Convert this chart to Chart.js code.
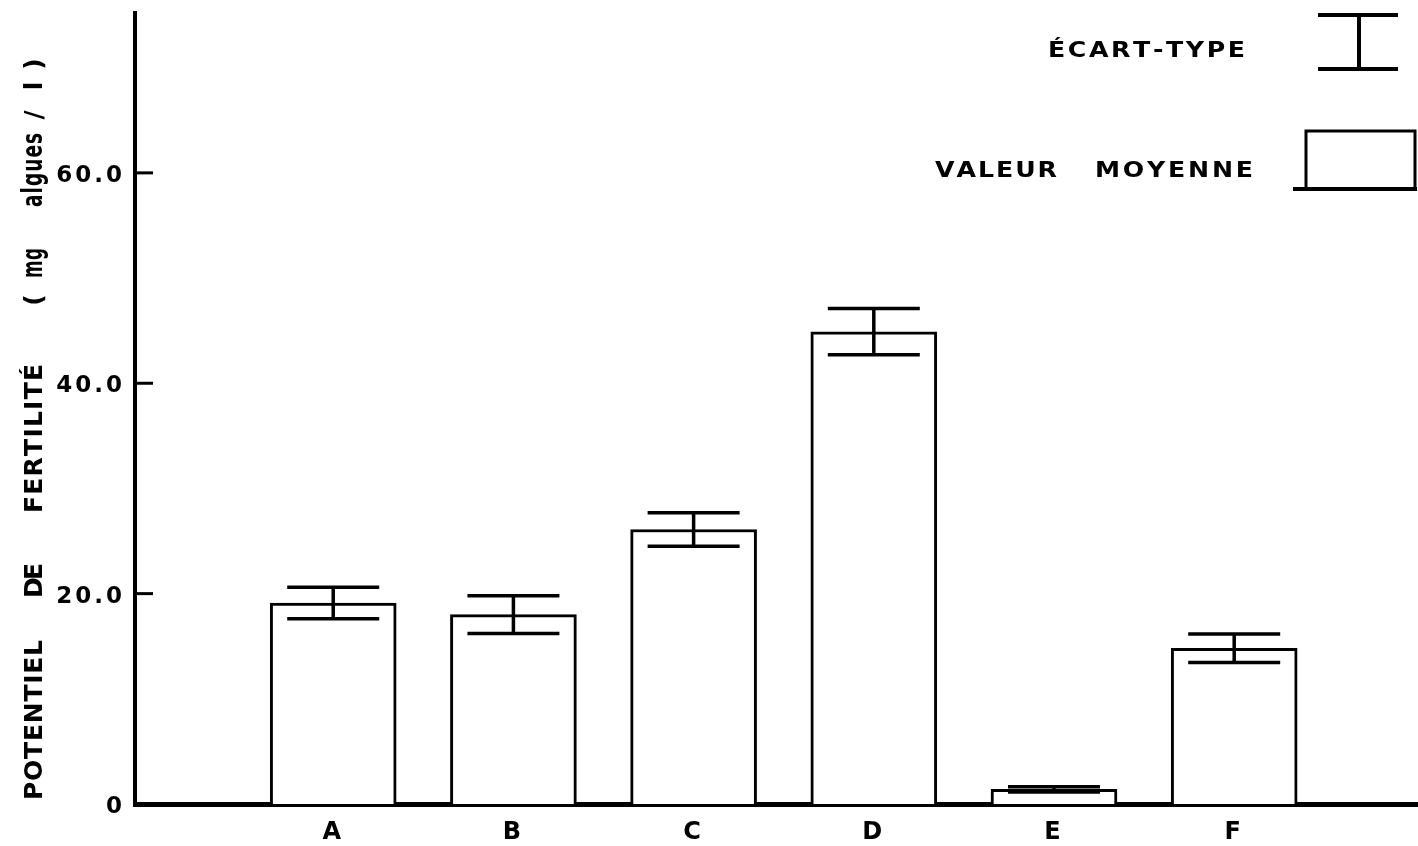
<!DOCTYPE html>
<html>
<head>
<meta charset="utf-8">
<script src="https://cdn.jsdelivr.net/npm/chart.js@4/dist/chart.umd.min.js"></script>
<style>
  html, body { margin: 0; padding: 0; background: #fff; }
  canvas { display: block; }
</style>
</head>
<body>
<canvas id="chart" width="1418" height="846"></canvas>
<script>
// Samples and their mean fertility potential (mg algues / l) with standard deviation
const categories = ['A', 'B', 'C', 'D', 'E', 'F'];
const meanValues = [19.1, 18.0, 26.1, 44.9, 1.4, 14.8];
const stdDevValues = [1.5, 1.8, 1.6, 2.2, 0.25, 1.35];
const yTickValues = [0, 20, 40, 60];
const yTitleWords = ['POTENTIEL', 'DE', 'FERTILITÉ', '(', 'mg', 'algues', '/', 'l', ')'];
const legendErrorLabel = 'ÉCART-TYPE';
const legendMeanWords = ['VALEUR', 'MOYENNE'];

const FONT = '"DejaVu Sans", "Liberation Sans", sans-serif';

// Spread the characters of a word evenly between two x positions on the current baseline,
// scaling each glyph horizontally by `stretch`
function drawSpread(ctx, text, x0, x1, y, stretch = 1) {
  const chars = Array.from(text);
  const widths = chars.map(c => ctx.measureText(c).width * stretch);
  const total = widths.reduce((a, b) => a + b, 0);
  ctx.textAlign = 'left';
  const put = (c, x) => {
    ctx.save();
    ctx.translate(x, y);
    ctx.scale(stretch, 1);
    ctx.fillText(c, 0, 0);
    ctx.restore();
  };
  if (chars.length === 1) {
    put(text, x0 + (x1 - x0 - total) / 2);
    return;
  }
  const gap = (x1 - x0 - total) / (chars.length - 1);
  let x = x0;
  chars.forEach((c, i) => {
    put(c, x);
    x += widths[i] + gap;
  });
}

// Word spans (bottom, top), font sizes and glyph widening of the rotated axis title
const titleSpans = [[800, 640], [598, 563], [513, 364], [306, 294], [278, 248], [207, 133], [123, 107], [92, 80], [70, 58]];
const titleSizes = [25, 25, 25, 25, 28, 28, 25, 25, 25];
const titleStretch = [1, 1, 1, 1, 0.6, 0.66, 1, 1, 1];

const figureDecor = {
  id: 'figureDecor',
  beforeDraw(chart) {
    // wide lettering for tick labels
    chart.ctx.letterSpacing = '3px';
  },
  afterDatasetsDraw(chart) {
    const ctx = chart.ctx;
    const xs = chart.scales.x, ys = chart.scales.y;
    ctx.save();
    ctx.strokeStyle = '#000';
    ctx.lineWidth = 3.5;
    ctx.lineCap = 'butt';
    meanValues.forEach((m, i) => {
      const s = stdDevValues[i];
      const x = xs.getPixelForValue(i + 1);
      const yt = ys.getPixelForValue(m + s);
      const yb = ys.getPixelForValue(m - s);
      const half = 46;
      ctx.beginPath();
      ctx.moveTo(x, yt); ctx.lineTo(x, yb);
      ctx.moveTo(x - half, yt); ctx.lineTo(x + half, yt);
      ctx.moveTo(x - half, yb); ctx.lineTo(x + half, yb);
      ctx.stroke();
    });
    ctx.restore();
  },
  afterDraw(chart) {
    const ctx = chart.ctx;
    const ys = chart.scales.y;
    const left = chart.chartArea.left;
    ctx.save();
    ctx.letterSpacing = '0px';
    ctx.strokeStyle = '#000';
    ctx.fillStyle = '#000';

    // inward tick marks on the vertical axis
    ctx.lineWidth = 3;
    yTickValues.filter(v => v > 0).forEach(v => {
      const y = ys.getPixelForValue(v);
      ctx.beginPath();
      ctx.moveTo(left, y); ctx.lineTo(left + 18, y);
      ctx.stroke();
    });

    // rotated axis title
    ctx.textBaseline = 'alphabetic';
    yTitleWords.forEach((w, i) => {
      const [b, t] = titleSpans[i];
      ctx.font = 'bold ' + titleSizes[i] + 'px ' + FONT;
      ctx.save();
      ctx.translate(42, b);
      ctx.rotate(-Math.PI / 2);
      drawSpread(ctx, w, 0, b - t, 0, titleStretch[i]);
      ctx.restore();
    });

    // legend: standard deviation symbol
    ctx.font = 'bold 21px ' + FONT;
    drawSpread(ctx, legendErrorLabel, 1048, 1245, 57, 1.2);
    ctx.lineWidth = 4;
    ctx.beginPath();
    ctx.moveTo(1318, 15); ctx.lineTo(1398, 15);
    ctx.moveTo(1318, 69); ctx.lineTo(1398, 69);
    ctx.moveTo(1359, 15); ctx.lineTo(1359, 69);
    ctx.stroke();

    // legend: mean value symbol
    drawSpread(ctx, legendMeanWords[0], 935, 1057, 177, 1.2);
    drawSpread(ctx, legendMeanWords[1], 1095, 1253, 177, 1.2);
    ctx.lineWidth = 3;
    ctx.strokeRect(1306, 131, 109, 58);
    ctx.lineWidth = 4;
    ctx.beginPath();
    ctx.moveTo(1293, 189); ctx.lineTo(1417, 189);
    ctx.stroke();
    ctx.restore();
  }
};

new Chart(document.getElementById('chart'), {
  type: 'bar',
  data: {
    datasets: [{
      data: categories.map((c, i) => ({ x: i + 1, y: meanValues[i] })),
      backgroundColor: '#fff',
      borderColor: '#000',
      borderWidth: 3,
      barThickness: 126
    }]
  },
  options: {
    responsive: false,
    animation: false,
    devicePixelRatio: 1,
    layout: { padding: { top: 13, right: 0, bottom: 0, left: 0 } },
    plugins: { legend: { display: false }, tooltip: { enabled: false } },
    scales: {
      x: {
        type: 'linear',
        offset: false,
        min: -0.1,
        max: 7.02,
        grid: { display: false, drawTicks: false },
        border: { display: true, color: '#000', width: 5 },
        ticks: {
          color: '#000',
          font: { family: FONT, size: 24, weight: 'bold' },
          padding: 14,
          callback: v => categories[v - 1] ?? ''
        },
        afterBuildTicks: s => { s.ticks = categories.map((_, i) => ({ value: i + 1 })); },
        afterFit: s => { s.height = 42; s.paddingLeft = 0; s.paddingRight = 0; }
      },
      y: {
        min: 0,
        max: 75.2,
        grid: { display: false, drawTicks: false },
        border: { display: true, color: '#000', width: 4 },
        ticks: {
          color: '#000',
          font: { family: FONT, size: 23, weight: 'bold' },
          padding: 10,
          labelOffset: 3,
          callback: v => (v === 0 ? '0' : v.toFixed(1))
        },
        afterBuildTicks: s => { s.ticks = yTickValues.map(v => ({ value: v })); },
        afterFit: s => { s.width = 135; s.paddingTop = 0; s.paddingBottom = 0; }
      }
    }
  },
  plugins: [figureDecor]
});
</script>
</body>
</html>
